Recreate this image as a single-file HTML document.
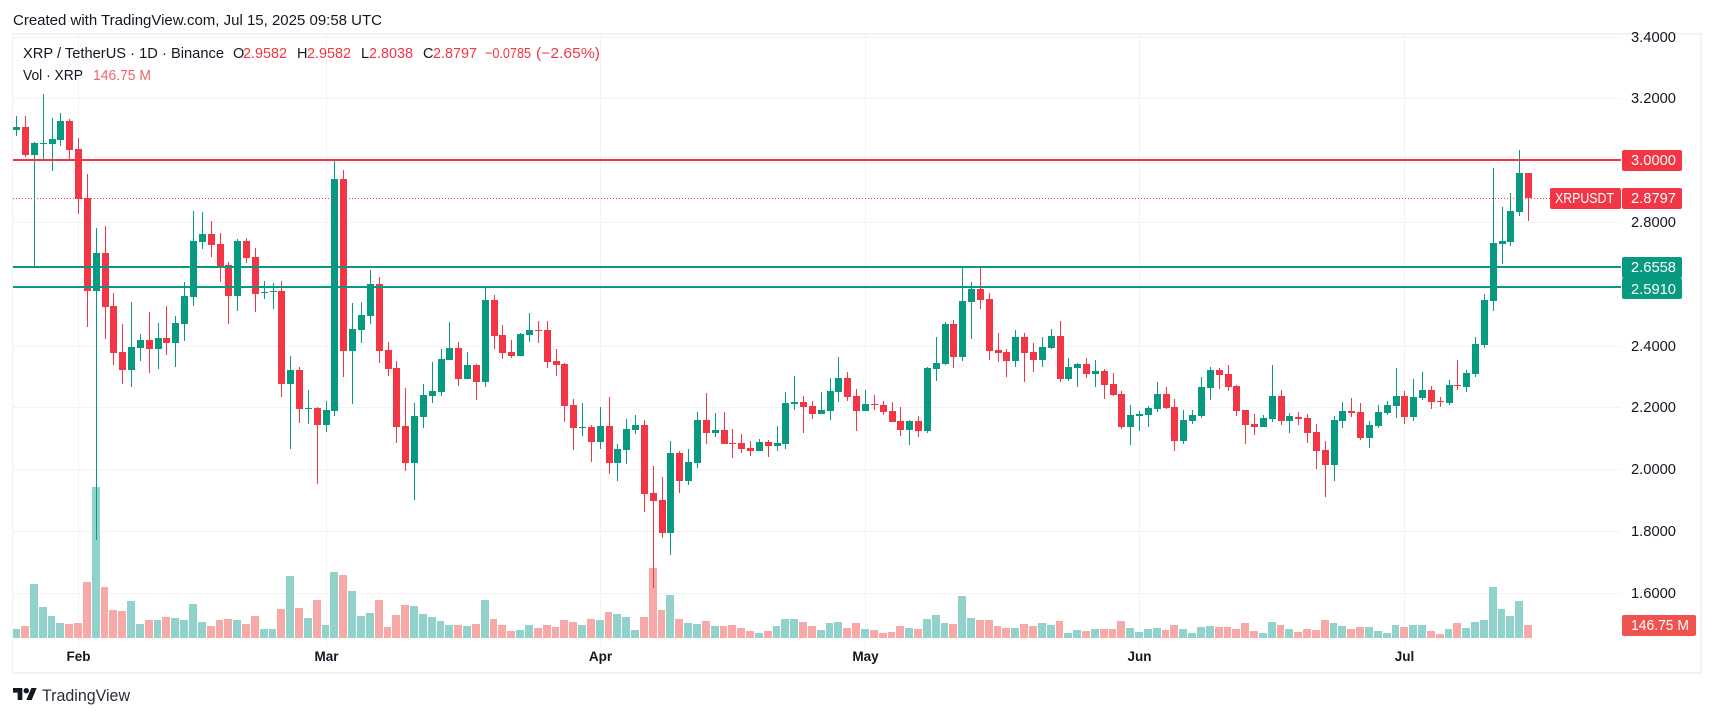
<!DOCTYPE html>
<html lang="en">
<head>
<meta charset="utf-8">
<title>XRP / TetherUS 1D chart</title>
<style>
html,body{margin:0;padding:0;background:#fff;width:1714px;height:717px;overflow:hidden}
svg{display:block}
text{font-family:"Liberation Sans",sans-serif;font-size:14.5px;fill:#131722}
.tag{fill:#fff;font-size:14.5px}
.r{fill:#f23645}
</style>
</head>
<body>
<svg id="chart" width="1714" height="717" viewBox="0 0 1714 717" xmlns="http://www.w3.org/2000/svg">
  <text x="13" y="25" textLength="369" lengthAdjust="spacingAndGlyphs">Created with TradingView.com, Jul 15, 2025 09:58 UTC</text>
  <rect x="12" y="33" width="1690" height="2" fill="#f3f3f3"/>
  <rect x="12" y="672" width="1690" height="2" fill="#f3f3f3"/>
  <rect x="12" y="33" width="1" height="641" fill="#f3f3f3"/>
  <rect x="1700" y="33" width="2" height="641" fill="#f3f3f3"/>
  <g id="grid"></g>
  <g id="volume"></g>
  <g id="candles"></g>
  <g id="levels"></g>
  <g id="yaxis"></g>
  <g id="xaxis"></g>

  <g>
    <text x="23" y="58" textLength="201" lengthAdjust="spacingAndGlyphs">XRP / TetherUS · 1D · Binance</text>
    <text x="233" y="58">O</text>
    <text class="r" x="243" y="58" textLength="44" lengthAdjust="spacingAndGlyphs">2.9582</text>
    <text x="297" y="58">H</text>
    <text class="r" x="307" y="58" textLength="44" lengthAdjust="spacingAndGlyphs">2.9582</text>
    <text x="361" y="58">L</text>
    <text class="r" x="369" y="58" textLength="44" lengthAdjust="spacingAndGlyphs">2.8038</text>
    <text x="423" y="58">C</text>
    <text class="r" x="433" y="58" textLength="44" lengthAdjust="spacingAndGlyphs">2.8797</text>
    <text class="r" x="485" y="58" textLength="46" lengthAdjust="spacingAndGlyphs">−0.0785</text>
    <text class="r" x="536" y="58" textLength="64" lengthAdjust="spacingAndGlyphs">(−2.65%)</text>
  </g>
  <text x="23" y="80" textLength="60" lengthAdjust="spacingAndGlyphs">Vol · XRP</text>
  <text x="93" y="80" textLength="58" lengthAdjust="spacingAndGlyphs" style="fill:#f2636a">146.75 M</text>

  <g>
    <path transform="translate(13,688) scale(0.667)" fill="#131722" d="M14 18H7V7H0V0h14v18zM28 18h-8l7.5-18h8L28 18z"/>
    <circle cx="26.3" cy="690.7" r="2.7" fill="#131722"/>
    <text x="42" y="701" textLength="88" lengthAdjust="spacingAndGlyphs" style="font-size:16.5px;fill:#2a2e39">TradingView</text>
  </g>
</svg>
<script>
const opens = [3.100,3.108,3.018,3.055,3.053,3.066,3.128,3.037,2.879,2.578,
2.701,2.529,2.381,2.322,2.394,2.419,2.390,2.426,2.410,2.471,
2.558,2.736,2.762,2.730,2.662,2.562,2.740,2.688,2.571,2.575,
2.578,2.277,2.322,2.196,2.199,2.144,2.190,2.940,2.384,2.452,
2.497,2.601,2.387,2.329,2.141,2.021,2.170,2.238,2.251,2.355,
2.393,2.293,2.338,2.283,2.549,2.435,2.381,2.368,2.435,2.452,
2.452,2.351,2.342,2.209,2.135,2.138,2.089,2.141,2.021,2.063,
2.128,2.144,1.924,1.902,1.795,2.054,1.963,2.021,2.161,2.118,
2.128,2.086,2.086,2.070,2.060,2.089,2.076,2.083,2.212,2.219,
2.206,2.180,2.190,2.251,2.296,2.238,2.190,2.212,2.209,2.190,
2.157,2.128,2.157,2.125,2.326,2.342,2.471,2.364,2.542,2.584,
2.552,2.387,2.381,2.351,2.429,2.381,2.355,2.393,2.432,2.293,
2.329,2.342,2.309,2.319,2.277,2.245,2.138,2.173,2.177,2.196,
2.245,2.203,2.093,2.157,2.173,2.264,2.322,2.309,2.271,2.193,
2.148,2.138,2.164,2.238,2.157,2.170,2.167,2.122,2.063,2.015,
2.157,2.190,2.186,2.102,2.141,2.183,2.206,2.238,2.170,2.232,
2.258,2.222,2.216,2.274,2.267,2.309,2.403,2.546,2.730,2.736,
2.833,2.9582];
const highs = [3.144,3.144,3.060,3.215,3.138,3.154,3.134,3.073,2.956,2.782,
2.788,2.571,2.471,2.542,2.439,2.510,2.474,2.529,2.497,2.607,
2.837,2.833,2.804,2.766,2.672,2.746,2.749,2.717,2.610,2.604,
2.610,2.368,2.332,2.258,2.203,2.222,2.998,2.969,2.539,2.542,
2.646,2.623,2.413,2.351,2.264,2.216,2.277,2.348,2.390,2.478,
2.413,2.381,2.342,2.592,2.565,2.468,2.419,2.442,2.507,2.481,
2.481,2.390,2.345,2.228,2.216,2.144,2.203,2.235,2.083,2.164,
2.177,2.161,2.012,1.976,2.093,2.060,2.067,2.186,2.248,2.183,
2.186,2.131,2.115,2.093,2.099,2.096,2.141,2.251,2.303,2.238,
2.222,2.251,2.296,2.364,2.316,2.261,2.258,2.241,2.222,2.219,
2.203,2.161,2.173,2.332,2.429,2.478,2.484,2.660,2.607,2.660,
2.571,2.442,2.390,2.452,2.442,2.410,2.429,2.455,2.481,2.361,
2.345,2.361,2.355,2.326,2.313,2.254,2.209,2.190,2.206,2.283,
2.267,2.228,2.193,2.193,2.300,2.332,2.329,2.338,2.274,2.193,
2.180,2.177,2.338,2.258,2.183,2.186,2.180,2.148,2.093,2.173,
2.219,2.232,2.216,2.157,2.209,2.222,2.329,2.254,2.293,2.316,
2.271,2.235,2.290,2.355,2.322,2.429,2.568,2.976,2.850,2.895,
3.034,2.9582];
const lows = [3.079,3.011,2.657,3.002,2.966,3.047,3.002,2.827,2.461,1.772,
2.423,2.338,2.277,2.267,2.351,2.313,2.326,2.371,2.332,2.416,
2.529,2.714,2.688,2.607,2.471,2.513,2.668,2.510,2.552,2.520,
2.235,2.067,2.151,2.148,1.954,2.122,2.174,2.300,2.212,2.410,
2.471,2.345,2.303,2.086,1.996,1.902,2.135,2.216,2.238,2.355,
2.271,2.293,2.225,2.267,2.390,2.358,2.361,2.368,2.413,2.410,
2.329,2.303,2.154,2.063,2.109,2.025,2.067,1.986,1.963,2.018,
2.115,1.863,1.617,1.779,1.724,1.924,1.950,2.005,2.083,2.105,
2.083,2.038,2.054,2.044,2.060,2.041,2.060,2.067,2.193,2.118,
2.164,2.180,2.161,2.219,2.222,2.125,2.190,2.193,2.177,2.154,
2.109,2.080,2.105,2.118,2.287,2.338,2.329,2.351,2.423,2.520,
2.355,2.348,2.300,2.332,2.283,2.316,2.332,2.390,2.283,2.287,
2.267,2.296,2.267,2.228,2.238,2.131,2.080,2.125,2.138,2.186,
2.196,2.060,2.083,2.148,2.167,2.225,2.261,2.254,2.173,2.083,
2.112,2.138,2.154,2.144,2.118,2.144,2.086,2.002,1.911,1.963,
2.135,2.170,2.096,2.070,2.135,2.177,2.167,2.148,2.157,2.225,
2.196,2.203,2.209,2.258,2.251,2.300,2.393,2.513,2.665,2.723,
2.821,2.8038];
const closes = [3.108,3.018,3.057,3.057,3.070,3.128,3.034,2.876,2.578,2.701,
2.526,2.377,2.322,2.397,2.419,2.390,2.426,2.410,2.474,2.562,
2.740,2.762,2.727,2.659,2.562,2.740,2.685,2.568,2.575,2.578,
2.277,2.322,2.196,2.199,2.144,2.193,2.940,2.384,2.455,2.500,
2.601,2.384,2.326,2.138,2.021,2.174,2.241,2.254,2.358,2.393,
2.293,2.338,2.283,2.549,2.432,2.377,2.368,2.439,2.452,2.448,
2.348,2.338,2.206,2.135,2.138,2.089,2.141,2.021,2.067,2.131,
2.144,1.921,1.898,1.795,2.054,1.963,2.025,2.161,2.118,2.128,
2.083,2.083,2.067,2.060,2.089,2.076,2.086,2.216,2.219,2.203,
2.180,2.193,2.254,2.296,2.235,2.190,2.212,2.209,2.186,2.154,
2.128,2.157,2.125,2.329,2.345,2.471,2.364,2.545,2.584,2.549,
2.384,2.377,2.351,2.429,2.377,2.355,2.397,2.432,2.293,2.332,
2.342,2.309,2.319,2.274,2.241,2.138,2.177,2.180,2.199,2.245,
2.199,2.093,2.161,2.177,2.267,2.322,2.306,2.267,2.190,2.144,
2.138,2.167,2.238,2.157,2.173,2.164,2.118,2.060,2.015,2.160,
2.190,2.183,2.102,2.144,2.186,2.209,2.238,2.170,2.235,2.258,
2.219,2.219,2.274,2.271,2.313,2.406,2.549,2.733,2.740,2.837,
2.960,2.8797];
const volumes = [98,132,606,347,245,166,155,166,629,1701,
572,313,301,414,155,200,200,234,222,200,
380,177,132,200,211,200,155,245,98,98,
324,697,335,222,426,143,742,708,527,245,
279,426,121,256,369,358,268,237,192,147,
147,135,158,429,215,147,79,90,147,113,
147,124,203,181,147,215,203,294,271,237,
90,237,790,316,485,215,169,158,192,135,
135,147,113,79,56,79,135,215,215,181,
135,90,169,181,113,169,102,90,56,68,
135,113,102,215,260,169,158,474,226,203,
203,135,113,113,158,135,169,147,192,56,
90,79,102,102,102,192,113,68,102,113,
90,147,102,56,124,135,124,124,102,169,
79,56,181,147,102,68,102,90,203,169,
135,102,124,124,79,56,147,124,147,147,
79,45,102,169,113,181,203,576,327,248,
418,146.75];
const priceTicks = [3.4,3.2,3.0,2.8,2.6,2.4,2.2,2.0,1.8,1.6];
const priceTickLabels = ['3.4000','3.2000','','2.8000','','2.4000','2.2000','2.0000','1.8000','1.6000'];
const monthLabels = ['Feb','Mar','Apr','May','Jun','Jul'];
const monthIndex = [7,35,66,96,127,157];
const resistanceLevels = [3.0];
const supportLevels = [2.6558,2.591];
const lastPrice = 2.8797;
const lastPriceLabel = '2.8797';
const symbolLabel = 'XRPUSDT';
const lastVolumeLabel = '146.75 M';

const NS = 'http://www.w3.org/2000/svg';
const GREEN = '#089981', RED = '#f23645';
const yP = p => 160.5 + (3 - p) * 309.1;
const xI = i => 16.15 + 8.842 * i;
const yV = v => 638 - v / 11.29;
const pxI = i => Math.round(xI(i));

function mk(parent, tag, props) {
  const el = document.createElementNS(NS, tag);
  for (const k in props) el.setAttribute(k, props[k]);
  parent.appendChild(el);
  return el;
}

const gGrid = document.getElementById('grid');
const gVol = document.getElementById('volume');
const gCandles = document.getElementById('candles');
const gLevels = document.getElementById('levels');
const gY = document.getElementById('yaxis');
const gX = document.getElementById('xaxis');

priceTicks.forEach(function (p, i) {
  const y = Math.round(yP(p) - 0.35);
  const ln = mk(gGrid, 'rect', {x: 13, y: y, width: 1608, height: 1, fill: '#f3f3f4'});
  
  
  if (priceTickLabels[i]) {
    const t = mk(gY, 'text', {x: 1631, y: y + 5, textLength: 45, lengthAdjust: 'spacingAndGlyphs'});
    t.textContent = priceTickLabels[i];
    
    
  }
});

monthLabels.forEach(function (m, i) {
  const x = pxI(monthIndex[i]);
  const ln = mk(gGrid, 'rect', {x: x, y: 35, width: 1, height: 612, fill: '#f3f3f4'});
  
  
  const t = mk(gX, 'text', {x: x + 0.5, y: 661, 'text-anchor': 'middle', style: 'font-weight:bold;font-size:13.5px'});
  t.textContent = m;
  
  
});

volumes.forEach(function (v, i) {
  const up = closes[i] >= opens[i];
  const left = Math.max(13, pxI(i) - 4);
  const nextLeft = pxI(i + 1) - 4;
  const top = Math.round(yV(v));
  const bar = mk(gVol, 'rect', {x: left, y: top, width: nextLeft - left - 1, height: 638 - top, fill: up ? '#92d2cc' : '#f7a9a7'});
  
  
});

opens.forEach(function (o, i) {
  const c = closes[i];
  const color = c >= o ? GREEN : RED;
  const px = pxI(i);
  const g = mk(gCandles, 'g', {});
  
  
  const yH = Math.round(yP(highs[i]));
  const yL = Math.round(yP(lows[i]));
  const wick = mk(g, 'rect', {x: px, y: yH, width: 1, height: Math.max(1, yL - yH), fill: color});
  
  
  const yT = Math.round(yP(Math.max(o, c)));
  const yB = Math.round(yP(Math.min(o, c)));
  const body = mk(g, 'rect', {x: px - 3, y: yT, width: 7, height: Math.max(1, yB - yT), fill: color});
  
  
});

const yLast = Math.round(yP(lastPrice));
const dots = mk(gLevels, 'line', {x1: 13, x2: 1550, y1: yLast + 0.5, y2: yLast + 0.5, stroke: RED, 'stroke-width': 1, 'stroke-dasharray': '1 2'});



function levelLine(p, color) {
  const y = Math.round(yP(p) - 1.01);
  const ln = mk(gLevels, 'rect', {x: 13, y: y, width: 1608, height: 2, fill: color});
  
  
  return y;
}
function levelTag(p, y, color) {
  const box = mk(gLevels, 'rect', {x: 1622, y: y - 10, width: 60, height: 21, rx: 2, fill: color});
  
  
}
function tagText(str, x, y, len) {
  const t = mk(gLevels, 'text', {class: 'tag', x: x, y: y, textLength: len, lengthAdjust: 'spacingAndGlyphs'});
  t.textContent = str;
  
  
}

resistanceLevels.forEach(function (p) {
  const y = levelLine(p, RED);
  levelTag(p, y + 1, RED);
  tagText(p.toFixed(4), 1631, y + 6, 45);
});
supportLevels.forEach(function (p, i) {
  const y = levelLine(p, GREEN);
  levelTag(p, y + (i === 0 ? 1 : 2), GREEN);
  tagText(p.toFixed(4), 1631, y + (i === 0 ? 6 : 8), 45);
});

const symBox = mk(gLevels, 'rect', {x: 1550, y: yLast - 10, width: 71, height: 21, rx: 2, fill: RED});


tagText(symbolLabel, 1555, yLast + 5, 59);
const lastBox = mk(gLevels, 'rect', {x: 1622, y: yLast - 10, width: 60, height: 21, rx: 2, fill: RED});


tagText(lastPriceLabel, 1631, yLast + 5, 45);

const volBox = mk(gLevels, 'rect', {x: 1622, y: 615, width: 74, height: 21, rx: 2, fill: '#ef5350'});


tagText(lastVolumeLabel, 1631, 630, 58);
</script>
</body>
</html>
